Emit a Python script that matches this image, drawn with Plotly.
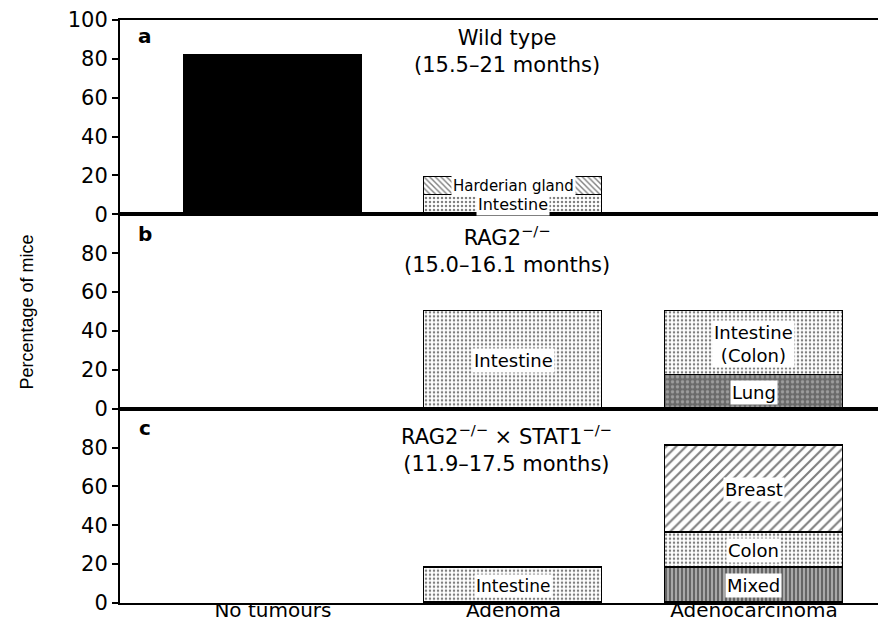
import plotly.graph_objects as go
from plotly.subplots import make_subplots

categories = ["No tumours", "Adenoma", "Adenocarcinoma"]

# Panel a: Wild type
a_none_cat = ["No tumours"]; a_none_val = [82]
a_intestine_cat = ["Adenoma"]; a_intestine_val = [10]
a_harderian_cat = ["Adenoma"]; a_harderian_val = [9]

# Panel b: RAG2-/-
b_intestine_cat = ["Adenoma"]; b_intestine_val = [50]
b_lung_cat = ["Adenocarcinoma"]; b_lung_val = [17]
b_colon_cat = ["Adenocarcinoma"]; b_colon_val = [33]

# Panel c: RAG2-/- x STAT1-/-
c_intestine_cat = ["Adenoma"]; c_intestine_val = [18]
c_mixed_cat = ["Adenocarcinoma"]; c_mixed_val = [18]
c_colon_cat = ["Adenocarcinoma"]; c_colon_val = [18]
c_breast_cat = ["Adenocarcinoma"]; c_breast_val = [45]

panel_titles = ["Wild type<br>(15.5–21 months)",
                "RAG2<sup>−/−</sup><br>(15.0–16.1 months)",
                "RAG2<sup>−/−</sup> × STAT1<sup>−/−</sup><br>(11.9–17.5 months)"]
panel_letters = ["a", "b", "c"]

FONT = "DejaVu Sans, Liberation Sans, Arial"

dots = dict(shape=".", size=4, solidity=0.3, fgcolor="black", bgcolor="white")
styles = {
    "solid": dict(color="black", pattern=dict(shape="")),
    "intestine": dict(color="white", pattern=dots),
    "harderian": dict(color="white", pattern=dict(shape="\\", size=4, solidity=0.35, fgcolor="black", bgcolor="white")),
    "lung": dict(color="#666", pattern=dict(shape=".", size=5, solidity=0.35, fgcolor="#d0d0d0", bgcolor="#6a6a6a")),
    "breast": dict(color="white", pattern=dict(shape="/", size=7, solidity=0.3, fgcolor="black", bgcolor="white")),
    "mixed": dict(color="#999", pattern=dict(shape="|", size=4, solidity=0.4, fgcolor="black", bgcolor="#a8a8a8")),
}

fig = make_subplots(rows=3, cols=1, shared_xaxes=True, vertical_spacing=0)

# (row, cats, vals, style, label, label font size)
segments = [
    (1, a_none_cat, a_none_val, "solid", None, 0),
    (1, a_intestine_cat, a_intestine_val, "intestine", "Intestine", 16),
    (1, a_harderian_cat, a_harderian_val, "harderian", "Harderian gland", 15),
    (2, b_intestine_cat, b_intestine_val, "intestine", "Intestine", 18),
    (2, b_lung_cat, b_lung_val, "lung", "Lung", 18),
    (2, b_colon_cat, b_colon_val, "intestine", "Intestine<br>(Colon)", 18),
    (3, c_intestine_cat, c_intestine_val, "intestine", "Intestine", 17),
    (3, c_mixed_cat, c_mixed_val, "mixed", "Mixed", 18),
    (3, c_colon_cat, c_colon_val, "intestine", "Colon", 18),
    (3, c_breast_cat, c_breast_val, "breast", "Breast", 18),
]

base = {}
annotations = []
for row, cats, vals, st, label, fs in segments:
    s = styles[st]
    fig.add_trace(go.Bar(x=cats, y=vals, width=0.74,
                         marker=dict(color=s["color"], pattern=s["pattern"],
                                     line=dict(color="black", width=1.5)),
                         showlegend=False, hoverinfo="skip"), row=row, col=1)
    if label:
        for c, v in zip(cats, vals):
            b0 = base.get((row, c), 0)
            yref = "y" if row == 1 else f"y{row}"
            annotations.append(dict(x=c, y=b0 + v / 2, xref="x", yref=yref,
                                    xanchor="center", yanchor="middle",
                                    text=label, showarrow=False, bgcolor="white",
                                    borderpad=1, font=dict(family=FONT, size=fs, color="black")))
    for c, v in zip(cats, vals):
        base[(row, c)] = base.get((row, c), 0) + v

title_y = [0.84, 0.82, 0.795]
letter_y = [0.92, 0.90, 0.90]
for i in range(3):
    yd = "y domain" if i == 0 else f"y{i+1} domain"
    annotations.append(dict(x=0.51, y=title_y[i], xref="x domain", yref=yd,
                            xanchor="center", yanchor="middle",
                            text=panel_titles[i], showarrow=False,
                            font=dict(family=FONT, size=21, color="black")))
    annotations.append(dict(x=0.033, y=letter_y[i], xref="x domain", yref=yd,
                            xanchor="center", yanchor="middle",
                            text=f"<b>{panel_letters[i]}</b>", showarrow=False,
                            font=dict(family="DejaVu Sans, Liberation Sans, Arial", size=20, color="black")))

annotations.append(dict(x=-0.1227, y=0.5, xref="paper", yref="paper",
                        xanchor="center", yanchor="middle",
                        text="Percentage of mice", textangle=-90, showarrow=False,
                        font=dict(family="Liberation Sans Narrow, Liberation Sans, Arial", size=18, color="black")))

fig.update_layout(
    width=886, height=621,
    margin=dict(l=112, r=16, t=12, b=26, autoexpand=False),
    barmode="stack", bargap=0,
    plot_bgcolor="white", paper_bgcolor="white",
    annotations=annotations,
    font=dict(family=FONT, size=21, color="black"),
)

for r in range(1, 4):
    fig.update_xaxes(row=r, col=1, type="category", categoryorder="array",
                     categoryarray=categories, range=[-0.636, 2.516],
                     showline=True, mirror=True, linecolor="black", linewidth=2,
                     ticks="", showgrid=False, zeroline=False, automargin=False,
                     ticklabelstandoff=-12,
                     tickfont=dict(family=FONT, size=20, color="black"))
    tv = [0, 20, 40, 60, 80, 100] if r == 1 else [0, 20, 40, 60, 80]
    fig.update_yaxes(row=r, col=1, range=[0, 100], tickvals=tv,
                     showline=True, mirror=True, linecolor="black", linewidth=2,
                     ticks="outside", ticklen=6, tickwidth=1.5, tickcolor="black",
                     showgrid=False, zeroline=False, automargin=False,
                     tickfont=dict(family=FONT, size=21, color="black"))

fig.write_html("out.html")
